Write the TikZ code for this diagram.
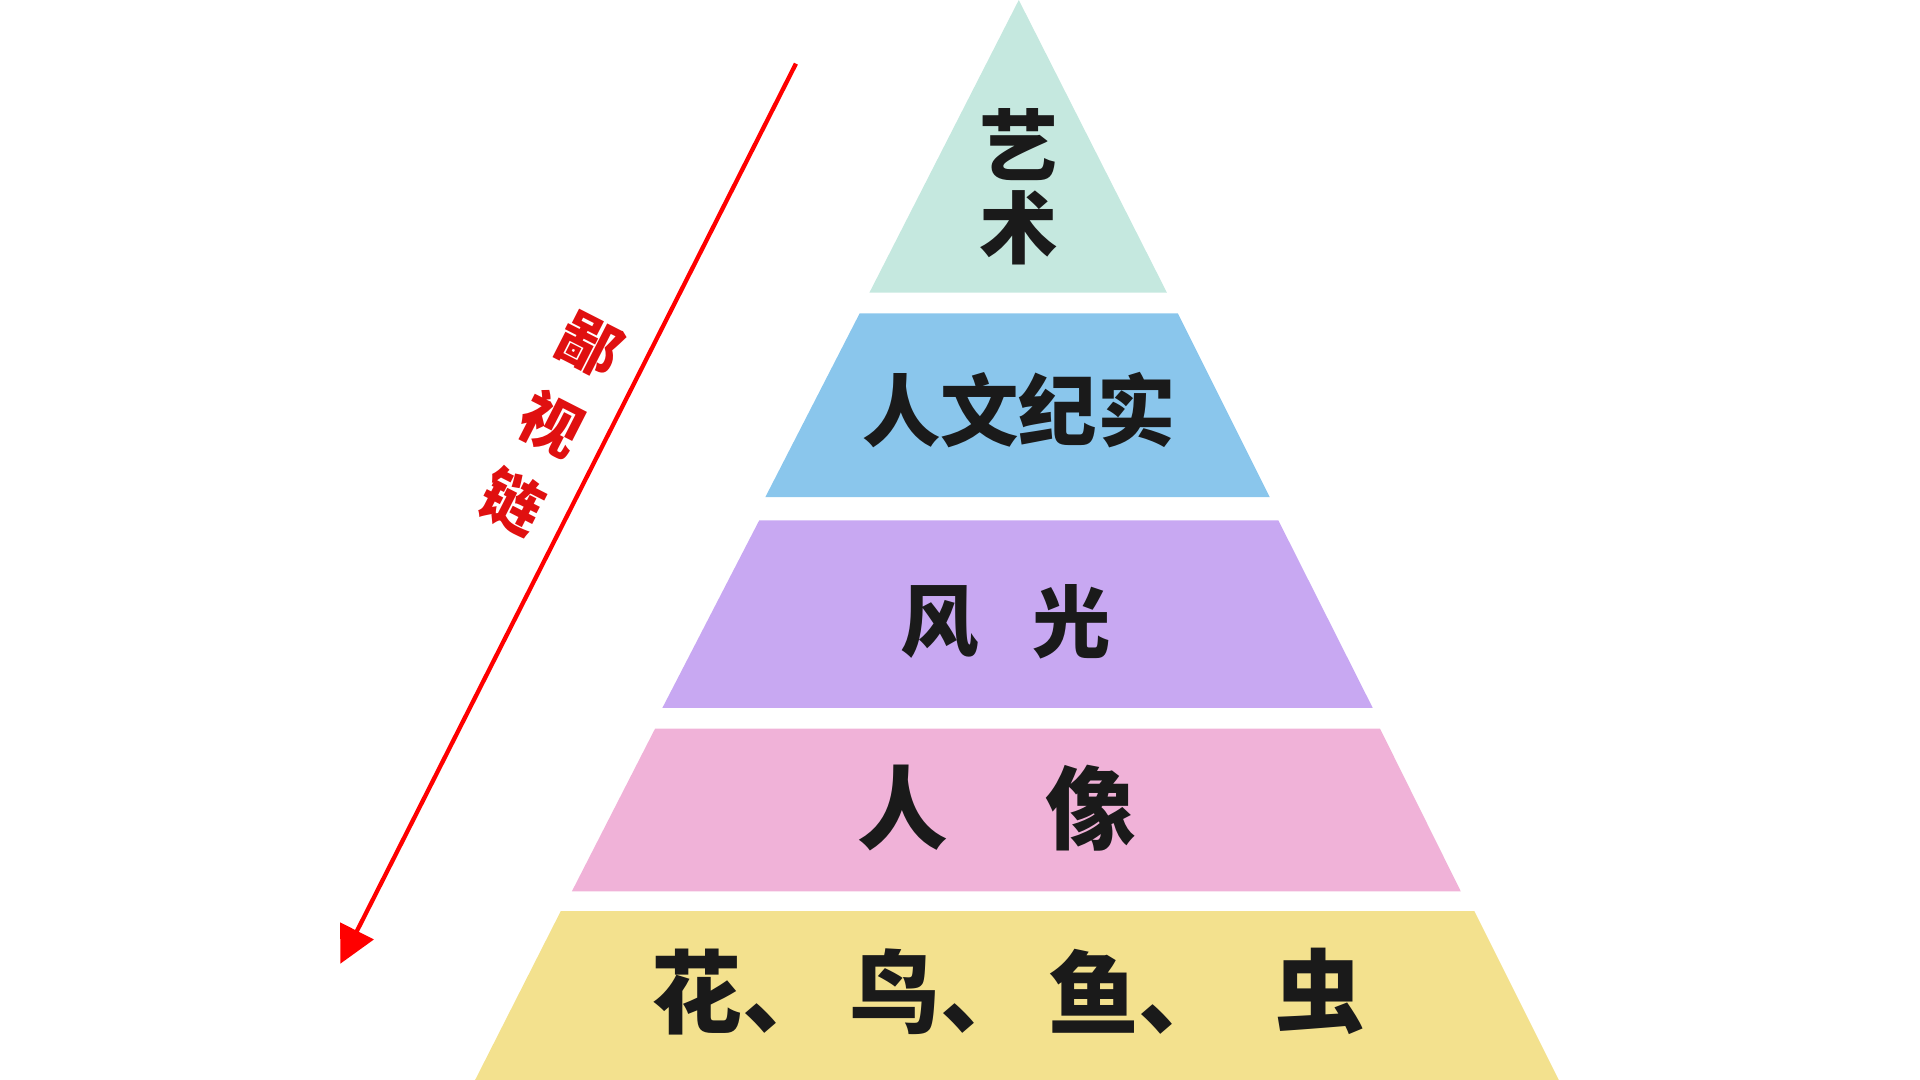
\documentclass[tikz,border=0pt]{standalone}
\usepackage{fontspec}
\newfontfamily\cjk{Noto Sans CJK SC}
\usetikzlibrary{arrows.meta}
\definecolor{c1}{HTML}{C5E8DF}
\definecolor{c2}{HTML}{8AC6EC}
\definecolor{c3}{HTML}{C8A8F2}
\definecolor{c4}{HTML}{F0B2D8}
\definecolor{c5}{HTML}{F3E18E}
\definecolor{txt}{HTML}{1A1A1A}
\definecolor{rd}{HTML}{E01010}
\begin{document}
\begin{tikzpicture}[x=1pt,y=-1pt,
  lbl/.style={font=\cjk\bfseries\fontsize{64}{64}\selectfont,text=txt,inner sep=0},
  big/.style={font=\cjk\bfseries\fontsize{74}{74}\selectfont,text=txt,inner sep=0},
  rlbl/.style={font=\cjk\bfseries\fontsize{50}{50}\selectfont,text=rd,inner sep=0,rotate=-27}]
\useasboundingbox (0,0) rectangle (1568,882);
\fill[c1] (832,0) -- (953,239) -- (710,239) -- cycle;
\fill[c2] (702,256) -- (962,256) -- (1037,406) -- (625,406) -- cycle;
\fill[c3] (620,425) -- (1044,425) -- (1121,578) -- (541,578) -- cycle;
\fill[c4] (535,595) -- (1127,595) -- (1193,728) -- (467,728) -- cycle;
\fill[c5] (458,744) -- (1204,744) -- (1273,882) -- (388,882) -- cycle;
\node[lbl] (a1) at (832,118) {艺};
\node[lbl] (a2) at (832,186) {术};
\node[lbl] (b) at (832,335) {人文纪实};
\node[lbl] (c1n) at (767,508) {风};
\node[lbl] (c2n) at (875,508) {光};
\node[big] (d1) at (737,660) {人};
\node[big] (d2) at (891,660) {像};
\node[big] (e1) at (606,810) {花、};
\node[big] (e2) at (768,810) {鸟、};
\node[big] (e3) at (930,810) {鱼、};
\node[big] (e4) at (1078,810) {虫};
\coordinate (s) at (650,52);
\coordinate (t) at (278,787);
\draw[red,line width=3.5pt,-{Triangle[length=30pt,width=30pt]}] (s) -- (t);
\node[rlbl] (r1) at (482,282) {鄙};
\node[rlbl] (r2) at (450,346) {视};
\node[rlbl] (r3) at (418,410) {链};
\end{tikzpicture}
\end{document}
